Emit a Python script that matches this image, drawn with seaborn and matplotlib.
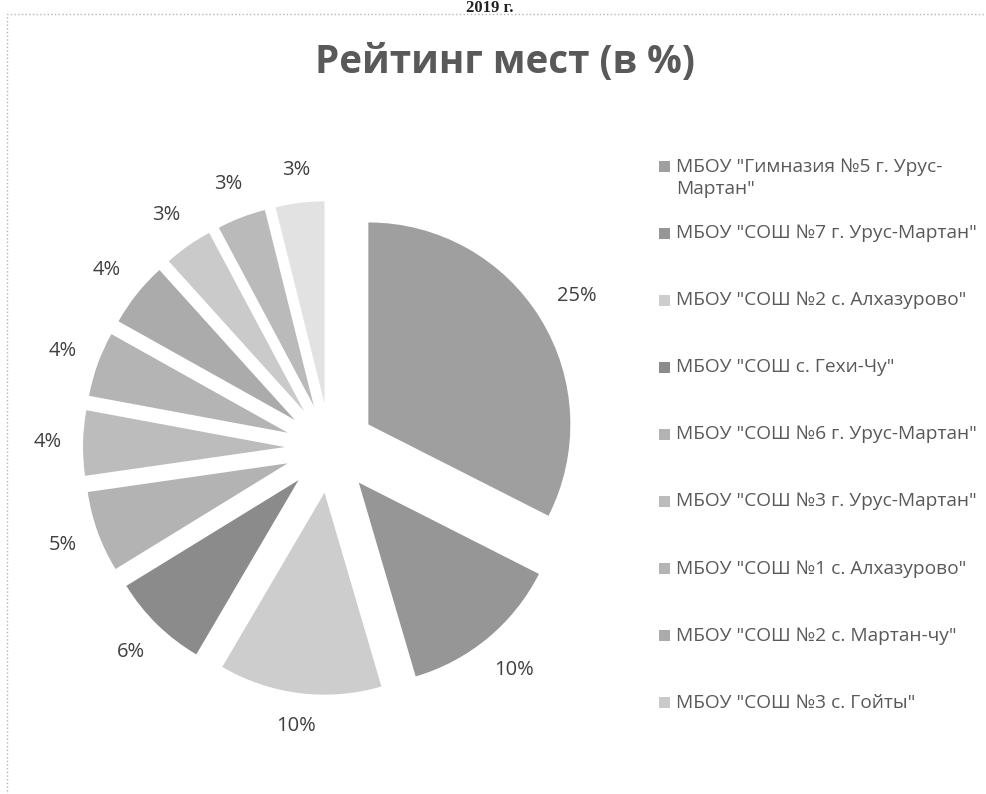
import matplotlib
matplotlib.use("Agg")
import matplotlib.pyplot as plt
from matplotlib.patches import Rectangle
import numpy as np
import seaborn as sns

TITLE = "Рейтинг мест (в %)"
SCHOOLS = [
    'МБОУ "Гимназия №5 г. Урус-\nМартан"',
    'МБОУ "СОШ №7 г. Урус-Мартан"',
    'МБОУ "СОШ №2 с. Алхазурово"',
    'МБОУ "СОШ с. Гехи-Чу"',
    'МБОУ "СОШ №6 г. Урус-Мартан"',
    'МБОУ "СОШ №3 г. Урус-Мартан"',
    'МБОУ "СОШ №1 с. Алхазурово"',
    'МБОУ "СОШ №2 с. Мартан-чу"',
    'МБОУ "СОШ №3 с. Гойты"',
]
# the pie has 11 slices, the legend in the source only lists the first 9
SHARES = [25, 10, 10, 6, 5, 4, 4, 4, 3, 3, 3]
GRAYS = ["#9f9f9f", "#969696", "#cdcdcd", "#8b8b8b", "#b3b3b3", "#bcbcbc",
         "#b4b4b4", "#ababab", "#cacaca", "#bababa", "#e2e2e2"]

W, H = 987, 794
FONTS = ["Open Sans", "DejaVu Sans"]

sns.set_theme(style="white")
plt.rcParams["font.family"] = FONTS

fig = plt.figure(figsize=(W / 100, H / 100), dpi=100)
ax = fig.add_axes([0, 0, 1, 1])
palette = sns.color_palette(GRAYS)

total = sum(SHARES)


def share_label(pct):
    return f"{pct * total / 100:.0f}%"


# pixel-based axes: y measured from the bottom
cx, cy, radius, gap = 330, H - 448, 202, 45
wedges, _, autotexts = ax.pie(
    SHARES,
    colors=palette,
    startangle=90,
    counterclock=False,
    center=(cx, cy),
    radius=radius,
    explode=[gap] * len(SHARES),
    autopct=share_label,
    pctdistance=1.22,
    wedgeprops={"linewidth": 0},
    textprops={"fontsize": 14.5, "color": "#404040"},
)
ax.set_xlim(0, W)
ax.set_ylim(0, H)
ax.set_aspect("equal")
ax.axis("off")

# "outside end" labels: keep a constant gap between slice edge and label box
fig.canvas.draw()
renderer = fig.canvas.get_renderer()
pad = 21
for w, t in zip(wedges, autotexts):
    ang = np.deg2rad((w.theta1 + w.theta2) / 2)
    bb = t.get_window_extent(renderer)
    ext = abs(np.cos(ang)) * bb.width / 2 + abs(np.sin(ang)) * bb.height / 2
    dist = radius + pad + ext
    wx, wy = w.center
    t.set_position((wx + dist * np.cos(ang), wy + dist * np.sin(ang)))

# legend laid out like the Excel one: evenly spaced rows
row0, step, line_gap = 166, 67.1, 24
for i, (name, color) in enumerate(zip(SCHOOLS, palette)):
    y = H - (row0 + i * step)
    ax.add_patch(Rectangle((659, y - 5.5), 11, 11, color=color, lw=0))
    n_lines = name.count("\n") + 1
    ax.text(676, y - (n_lines - 1) * line_gap / 2, name, fontsize=13.8,
            color="#595959", va="center", ha="left", linespacing=1.25)

ax.text(505, H - 63, TITLE, fontsize=27.8, fontweight="bold", color="#595959",
        ha="center", va="center")

# year line of the page above the chart
fig.text(490 / W, 1 - 12 / H, "2019 г.", fontsize=12, fontweight="bold",
         family=["Liberation Serif", "DejaVu Serif"], color="#222222",
         ha="center", va="baseline")

fig.add_artist(Rectangle((7 / W, -0.05), 1.1, 1 - 14 / H + 0.05,
                         transform=fig.transFigure, fill=False,
                         edgecolor="#b5b5b5", lw=1, ls=":"))

fig.savefig("out.png", dpi=100)
